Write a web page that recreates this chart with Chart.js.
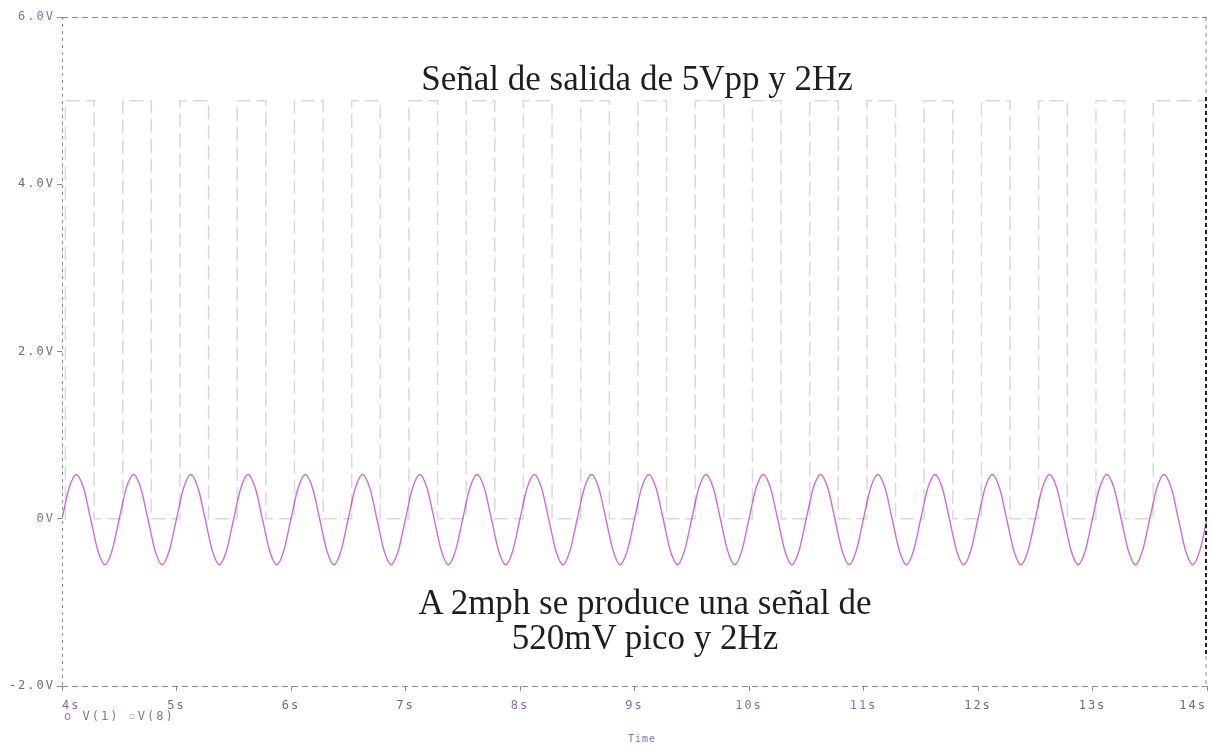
<!DOCTYPE html>
<html>
<head>
<meta charset="utf-8">
<script src="https://cdn.jsdelivr.net/npm/chart.js@4/dist/chart.umd.min.js"></script>
<style>
    html, body { margin: 0; padding: 0; background: #fff; }
    #wrap { position: relative; width: 1211px; height: 746px; overflow: hidden; }
    canvas { position: absolute; left: 0; top: 0; }
    .note {
        position: absolute;
        font-family: 'Liberation Serif', 'Times New Roman', serif;
        color: #1e1e1e;
        text-align: center;
        white-space: nowrap;
    }
    .mono {
        position: absolute;
        font-family: 'DejaVu Sans Mono', monospace;
        font-size: 12px;
        letter-spacing: 2px;
        color: #8a6f9e;
        white-space: nowrap;
    }
</style>
</head>
<body>
<div id="wrap">
    <canvas id="chart" width="1211" height="746"></canvas>
    <div class="note" style="left: 337px; width: 600px; top: 62px; font-size: 35px; line-height: 34px;">Señal de salida de 5Vpp y 2Hz</div>
    <div class="note" style="left: 345px; width: 600px; top: 585px; font-size: 35px; line-height: 35px;">A 2mph se produce una señal de<br>520mV pico y 2Hz</div>
    <div class="mono" style="left: 64px; top: 709px;"><span style="color:#c060c8">o</span> V(1) <span style="color:#bbb">▫</span>V(8)</div>
    <div class="mono" style="left: 628px; top: 733px; font-size: 10px; letter-spacing: 1px;">Time</div>
</div>
<script>
// ticks
const xTickValues = [4, 5, 6, 7, 8, 9, 10, 11, 12, 13, 14];
const xTickLabels = ['4s', '5s', '6s', '7s', '8s', '9s', '10s', '11s', '12s', '13s', '14s'];
const yTickValues = [-2, 0, 2, 4, 6];
const yTickLabels = ['-2.0V', '0V', '2.0V', '4.0V', '6.0V'];

// V(1): sine, one sample every 1/16 s from 4s
const sineStart = 4;
const sineStep = 0.0625;
const sineValues = [
    0, 0.37, 0.53, 0.37, 0, -0.38, -0.55, -0.38,
    0, 0.37, 0.53, 0.37, 0, -0.38, -0.55, -0.38,
    0, 0.37, 0.53, 0.37, 0, -0.38, -0.55, -0.38,
    0, 0.37, 0.53, 0.37, 0, -0.38, -0.55, -0.38,
    0, 0.37, 0.53, 0.37, 0, -0.38, -0.55, -0.38,
    0, 0.37, 0.53, 0.37, 0, -0.38, -0.55, -0.38,
    0, 0.37, 0.53, 0.37, 0, -0.38, -0.55, -0.38,
    0, 0.37, 0.53, 0.37, 0, -0.38, -0.55, -0.38,
    0, 0.37, 0.53, 0.37, 0, -0.38, -0.55, -0.38,
    0, 0.37, 0.53, 0.37, 0, -0.38, -0.55, -0.38,
    0, 0.37, 0.53, 0.37, 0, -0.38, -0.55, -0.38,
    0, 0.37, 0.53, 0.37, 0, -0.38, -0.55, -0.38,
    0, 0.37, 0.53, 0.37, 0, -0.38, -0.55, -0.38,
    0, 0.37, 0.53, 0.37, 0, -0.38, -0.55, -0.38,
    0, 0.37, 0.53, 0.37, 0, -0.38, -0.55, -0.38,
    0, 0.37, 0.53, 0.37, 0, -0.38, -0.55, -0.38,
    0, 0.37, 0.53, 0.37, 0, -0.38, -0.55, -0.38,
    0, 0.37, 0.53, 0.37, 0, -0.38, -0.55, -0.38,
    0, 0.37, 0.53, 0.37, 0, -0.38, -0.55, -0.38,
    0, 0.37, 0.53, 0.37, 0, -0.38, -0.55, -0.38,
    0,
];

// V(8): square wave edges (s) and the level held after each edge (V)
const squareTimes = [
    4.00, 4.03, 4.28, 4.53, 4.78, 5.03, 5.28, 5.53, 5.78, 6.03,
    6.28, 6.53, 6.78, 7.03, 7.28, 7.53, 7.78, 8.03, 8.28, 8.53,
    8.78, 9.03, 9.28, 9.53, 9.78, 10.03, 10.28, 10.53, 10.78, 11.03,
    11.28, 11.53, 11.78, 12.03, 12.28, 12.53, 12.78, 13.03, 13.28, 13.53,
    13.78, 14.00,
];
const squareLevels = [
    5, 0, 5, 0, 5, 0, 5, 0, 5, 0,
    5, 0, 5, 0, 5, 0, 5, 0, 5, 0,
    5, 0, 5, 0, 5, 0, 5, 0, 5, 0,
    5, 0, 5, 0, 5, 0, 5, 0, 5, 0,
    5, 5,
];

const PURPLE = '#8a6f9e';
const GREY = '#6f6f6f';
const xTickColors = [PURPLE, GREY, GREY, GREY, PURPLE, PURPLE, PURPLE, PURPLE, GREY, GREY, GREY];
const yTickColors = [GREY, PURPLE, GREY, GREY, PURPLE];
const BORDER = '#8e8a98';

const sinePoints = sineValues.map((y, i) => ({ x: sineStart + i * sineStep, y }));
const squarePoints = squareTimes.map((x, i) => ({ x, y: squareLevels[i] }));

const letterSpacing = {
    id: 'letterSpacing',
    beforeDraw(chart) { chart.ctx.letterSpacing = '2px'; },
    afterDraw(chart) { chart.ctx.letterSpacing = '0px'; },
};

// dashed plot frame, PSpice style
const dashedFrame = {
    id: 'dashedFrame',
    afterDraw(chart) {
        const { ctx, chartArea: { left, right, top, bottom } } = chart;
        const side = (x1, y1, x2, y2, color, width, dash) => {
            ctx.save();
            ctx.strokeStyle = color;
            ctx.lineWidth = width;
            ctx.setLineDash(dash);
            ctx.beginPath();
            ctx.moveTo(x1, y1);
            ctx.lineTo(x2, y2);
            ctx.stroke();
            ctx.restore();
        };
        side(left, top + 0.5, right, top + 0.5, BORDER, 1, [6, 4]);
        side(left, bottom + 0.5, right, bottom + 0.5, BORDER, 1, [6, 4]);
        side(left + 0.5, top, left + 0.5, bottom, BORDER, 1, [3, 4]);
        side(right - 1, top, right - 1, top + 80, BORDER, 1, [4, 4]);
        side(right - 1, top + 80, right - 1, bottom - 30, '#222', 2, [4, 3]);
        side(right - 1, bottom - 30, right - 1, bottom, BORDER, 1, [4, 4]);
    },
};

const tickFont = { family: "'DejaVu Sans Mono', monospace", size: 12 };

new Chart(document.getElementById('chart'), {
    type: 'line',
    data: {
        datasets: [
            {
                label: 'V(8)',
                data: squarePoints,
                stepped: 'after',
                borderColor: 'rgba(80, 80, 80, 0.22)',
                borderWidth: 1.5,
                borderDash: [14, 6],
                pointRadius: 0,
                fill: false,
            },
            {
                label: 'V(1)',
                data: sinePoints,
                borderColor: '#cc6fd2',
                borderWidth: 1.4,
                cubicInterpolationMode: 'monotone',
                pointRadius: 0,
                fill: false,
            },
        ],
    },
    options: {
        responsive: false,
        animation: false,
        devicePixelRatio: 1,
        layout: { padding: { top: 17, right: 4, left: 0, bottom: 0 } },
        plugins: {
            legend: { display: false },
            tooltip: { enabled: false },
        },
        scales: {
            x: {
                type: 'linear',
                min: 4,
                max: 14,
                afterBuildTicks: (scale) => { scale.ticks = xTickValues.map((value) => ({ value })); },
                afterFit: (scale) => {
                    scale.height = 60;
                    scale.paddingLeft = 0;
                    scale.paddingRight = 0;
                },
                ticks: {
                    autoSkip: false,
                    maxRotation: 0,
                    align: 'inner',
                    padding: 8,
                    font: tickFont,
                    color: (ctx) => xTickColors[ctx.index] ?? GREY,
                    callback: (value, index) => xTickLabels[index],
                },
                grid: { drawOnChartArea: false, drawTicks: true, tickLength: 5, color: BORDER },
                border: { display: false },
            },
            y: {
                min: -2,
                max: 6,
                afterBuildTicks: (scale) => { scale.ticks = yTickValues.map((value) => ({ value })); },
                afterFit: (scale) => {
                    scale.width = 62;
                    scale.paddingTop = 0;
                    scale.paddingBottom = 0;
                },
                ticks: {
                    autoSkip: false,
                    padding: 2,
                    font: tickFont,
                    color: (ctx) => yTickColors[ctx.index] ?? GREY,
                    callback: (value, index) => yTickLabels[index],
                },
                grid: { drawOnChartArea: false, drawTicks: true, tickLength: 5, color: BORDER },
                border: { display: false },
            },
        },
    },
    plugins: [letterSpacing, dashedFrame],
});
</script>
</body>
</html>
